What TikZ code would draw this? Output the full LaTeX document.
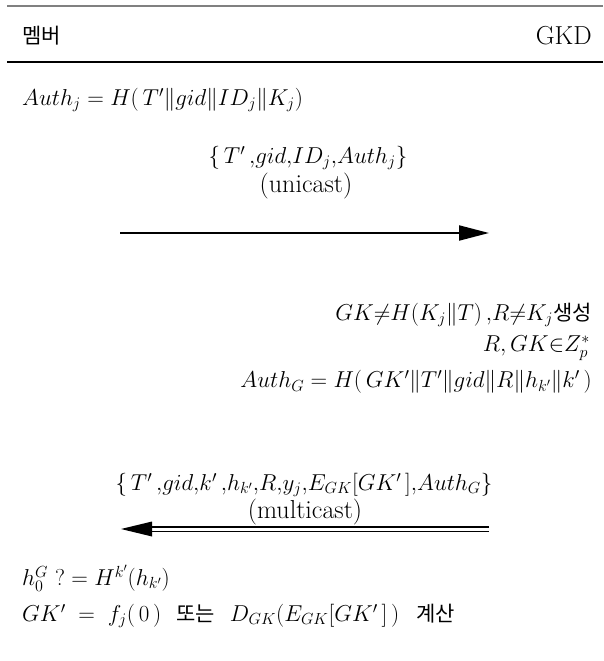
\RequirePackage{fix-cm}
\documentclass[tikz,border=0pt]{standalone}
\usepackage{fontspec}
\newfontfamily\kr{Noto Sans CJK KR}
\usetikzlibrary{arrows.meta}
\newcommand{\krt}[1]{{\kr\fontsize{21}{24}\selectfont #1}}
\tikzset{
  txt/.style={inner sep=0pt, font=\fontsize{23}{27}\selectfont},
  word/.style={inner sep=0pt, font=\fontsize{26}{30}\selectfont},
  rule/.style={line width=1.4pt},
  toprule/.style={line width=2.5pt, draw=black!50},
  uni/.style={line width=2pt, -{Triangle[length=30pt,width=15pt]}},
}
\begin{document}
\begin{tikzpicture}[x=1pt,y=-1pt]
\useasboundingbox (0,0) rectangle (603,661);
\coordinate (tl) at (7,6); \coordinate (tr) at (603,6);
\coordinate (ml) at (7,62); \coordinate (mr) at (603,62);
\draw[toprule] (tl) -- (tr);
\draw[rule] (ml) -- (mr);
\node[txt, anchor=west] (mem) at (22,36) {\krt{멤버}};
\node[word, anchor=east] (gkd) at (592,36) {GKD};
\node[txt, anchor=west] (l1) at (22,100) {$Auth_j = H(\,T'\|gid\|ID_j\|K_j)$};
\node[txt] (m1) at (308,158) {$\{\,T'\,{,}gid{,}ID_j{,}Auth_j\}$};
\node[word] (u1) at (306,186) {(unicast)};
\coordinate (a1s) at (120,233); \coordinate (a1e) at (489,233);
\draw[uni] (a1s) -- (a1e);
\node[txt, anchor=east] (r1) at (592,315) {$GK{\neq}H(K_j\|T)\,{,}R{\neq}K_j$\krt{생성}};
\node[txt, anchor=east] (r2) at (590,348) {$R,GK{\in}Z_p^*$};
\node[txt, anchor=east] (r3) at (592,382) {$Auth_G = H(\,GK'\|T'\|gid\|R\|h_{k'}\|k'\,)$};
\node[txt] (m2) at (304,485) {$\{\,T'\,{,}gid{,}k'\,{,}h_{k'}{,}R{,}y_j{,}E_{GK}[GK'\,]{,}Auth_G\}$};
\node[word] (u2) at (305,512) {(multicast)};
\coordinate (a2s) at (489,529); \coordinate (a2b) at (152,529); \coordinate (a2e) at (121,529);
\draw[line width=1.4pt] ([yshift=-2.2pt]a2s) -- ([yshift=-2.2pt]a2b);
\draw[line width=1.4pt] ([yshift=2.2pt]a2s) -- ([yshift=2.2pt]a2b);
\fill ([yshift=-7.5pt]a2b) -- (a2e) -- ([yshift=7.5pt]a2b) -- cycle;
\node[txt, anchor=west] (l2) at (22,578) {$h_0^G\ ?= H^{k'}(h_{k'})$};
\node[txt, anchor=west] (l3) at (22,616) {$GK'\;=\;f_j(\,0\,)$\hspace{15pt}\krt{또는}\hspace{15pt}$D_{GK}(E_{GK}[GK'\,]\,)$\hspace{17pt}\krt{계산}};
\end{tikzpicture}
\end{document}
